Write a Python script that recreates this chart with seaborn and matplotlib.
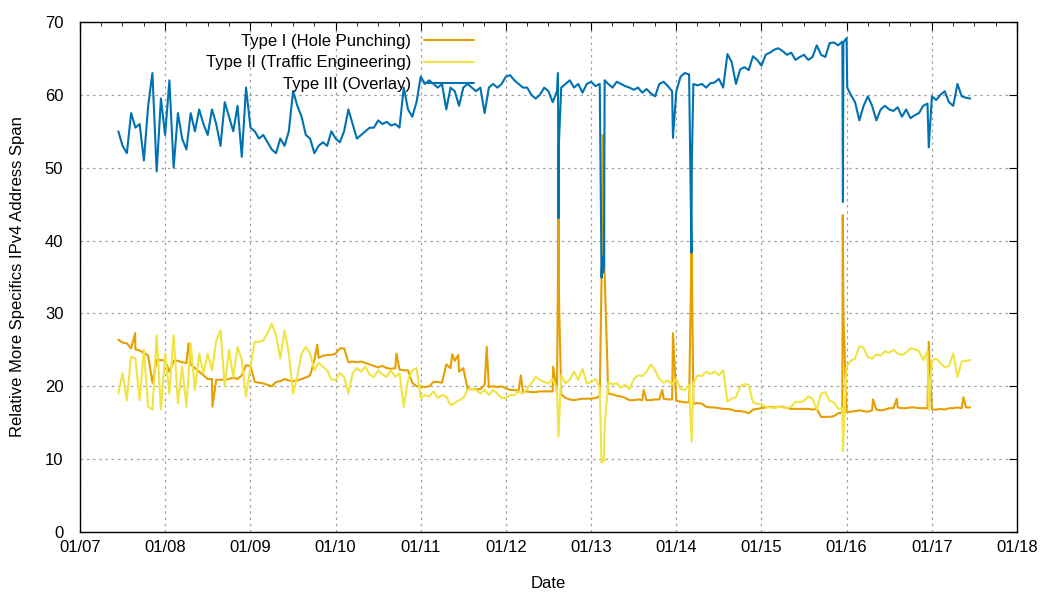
import numpy as np
import pandas as pd
import matplotlib
matplotlib.use('Agg')
import matplotlib.pyplot as plt
import matplotlib.dates as mdates
import seaborn as sns

sns.set_style('white')
plt.rcParams['font.family'] = ['Liberation Sans', 'DejaVu Sans']
plt.rcParams['text.color'] = 'black'
plt.rcParams['axes.labelcolor'] = 'black'

# sample times (fractional years), one reading every 0.05 yr, mid-2007 .. mid-2017
t_grid = np.round(2007.45 + 0.05 * np.arange(201), 3)

# Type I (Hole Punching) readings on the grid
type1_vals = [
    26.4, 26, 25.9, 25.2, 25.1, 24.9, 24.6, 24.2, 20.5, 23.7, 23.6, 23.5, 22, 23.5, 23.5, 23.3, 23.2, 23, 22.5, 22,
    21.5, 21, 21, 20.9, 20.9, 20.9, 21, 21.2, 21, 21.5, 22.9, 22.8, 20.6, 20.5, 20.4, 20.2, 20, 20.6, 20.7, 21,
    20.8, 20.7, 20.8, 21, 21.2, 21.5, 23.6, 23.9, 24.2, 24.3, 24.3, 24.5, 25.2, 25.2, 23.3, 23.4, 23.3, 23.4, 23.2, 23,
    22.8, 22.6, 22.8, 22.5, 22.4, 22.5, 22.3, 22.2, 22.2, 20.5, 20, 20, 19.9, 20, 20.6, 20.6, 20.5, 23, 22.5, 23.5,
    22, 22.5, 19.7, 19.6, 19.6, 19.6, 20.2, 19.9, 20, 19.9, 20, 19.7, 19.5, 19.5, 19.4, 19.3, 19.3, 19.2, 19.2, 19.3,
    19.3, 19.3, 19.3, 19.2, 18.9, 18.4, 18.2, 18.1, 18.2, 18.3, 18.3, 18.3, 18.4, 18.6, 49, 19, 18.9, 18.7, 18.6, 18.4,
    18.1, 18.1, 18.2, 18.1, 18.1, 18.1, 18.2, 18.2, 18.3, 18.2, 18.2, 18.0, 17.9, 17.8, 17.8, 17.6, 17.7, 17.6, 17.2, 17.1,
    17.1, 17.0, 16.9, 16.9, 16.8, 16.6, 16.6, 16.5, 16.3, 16.8, 16.9, 17.0, 17.1, 17.2, 17.1, 17.2, 17.2, 17.0, 16.9, 16.9,
    16.9, 16.9, 16.9, 16.8, 16.9, 15.8, 15.8, 15.8, 15.9, 16.3, 16.4, 16.5, 16.5, 16.6, 16.7, 16.6, 16.5, 16.7, 16.8, 16.7,
    16.8, 17.0, 17.0, 17.1, 17.0, 17.0, 17.1, 17.1, 17.0, 17.0, 17.0, 16.8, 16.8, 16.9, 16.8, 17.0, 17.0, 17.1, 17.0, 17.1, 17.1,
]
# short spikes / outage days between grid readings
type1_extra_t = [2007.647, 2008.275, 2008.555, 2009.784, 2010.714, 2011.37, 2011.44, 2011.775, 2012.176, 2012.555,
                 2012.618, 2012.625, 2013.122, 2013.135, 2013.145, 2013.155, 2013.616, 2013.835, 2013.96,
                 2014.178, 2014.185, 2015.955, 2015.962, 2016.31, 2016.59, 2016.965, 2017.37]
type1_extra_v = [27.3, 25.9, 17.2, 25.7, 24.5, 24.4, 24.3, 25.4, 21.5, 22.7,
                 43.1, 31.5, 35, 54.5, 51.5, 36.5, 19.5, 19.5, 27.3,
                 38.3, 33.7, 43.5, 30, 18.2, 18.3, 26.1, 18.5]

# Type II (Traffic Engineering)
type2_vals = [
    19.0, 21.8, 18.1, 24.1, 23.8, 18.1, 25.0, 17.2, 16.8, 27.0, 16.8, 24.5, 19.0, 27.0, 17.7, 22.7, 17.2, 25.9, 19.5, 24.5,
    21.8, 24.5, 22.2, 26.3, 27.7, 20.0, 25.0, 21.3, 25.4, 23.6, 18.6, 22.7, 26.1, 26.1, 26.3, 27.3, 28.6, 27.0, 23.8, 27.7,
    24.5, 19.0, 21.3, 24.5, 25.4, 24.5, 22.2, 23.2, 22.7, 22.2, 20.9, 20.9, 21.8, 21.3, 19.0, 21.8, 22.5, 22.0, 22.7, 21.6,
    21.3, 22.2, 21.6, 21.3, 22.2, 21.3, 21.8, 17.2, 20.9, 22.2, 22.5, 18.4, 18.8, 18.6, 19.3, 18.4, 18.8, 18.6, 17.4, 17.7,
    18.1, 18.4, 19.5, 19.7, 19.5, 19.0, 19.5, 18.8, 19.5, 19.0, 18.4, 18.4, 18.8, 18.8, 19.3, 19.0, 19.7, 20.4, 21.3, 20.9,
    20.6, 20.4, 21.0, 19.7, 21.5, 20.4, 20.9, 22.0, 20.9, 22.4, 20.4, 20.6, 21.0, 19.8, 9.8, 20.5, 20.3, 20.4, 19.8, 20.2,
    19.6, 21.0, 21.5, 21.4, 22.0, 23.0, 22.2, 21.0, 20.5, 20.8, 20.3, 21.0, 19.6, 19.5, 20.2, 20.5, 21.5, 21.4, 22.0, 21.7,
    22.0, 21.5, 22.2, 17.9, 18.3, 18.5, 20.0, 20.3, 20.2, 17.8, 17.6, 17.5, 17.2, 17.1, 17.0, 17.2, 17.1, 17.0, 17.2, 17.9,
    17.8, 18.0, 18.6, 18.3, 16.8, 19.0, 19.2, 18.0, 17.8, 16.9, 17.0, 22.7, 23.5, 23.8, 25.5, 25.3, 24.0, 23.8, 24.4, 24.2,
    24.8, 24.6, 25.0, 24.5, 24.3, 24.6, 25.2, 25.1, 24.8, 23.6, 24.8, 23.5, 23.8, 23.2, 22.6, 22.8, 24.5, 21.3, 23.4, 23.5, 23.6,
]
type2_extra_t = [2012.618, 2013.122, 2013.14, 2013.158, 2014.18, 2015.957, 2016.965]
type2_extra_v = [13.1, 9.5, 10, 14.7, 12.4, 11.1, 16.8]

# Type III (Overlay)
type3_vals = [
    55, 53, 52, 57.5, 55.5, 56, 51, 58.5, 63, 49.5, 59.5, 54.5, 62, 50, 57.5, 54, 52.5, 57.5, 55, 58,
    56, 54.5, 58, 56, 53, 59, 57, 55, 58.5, 51.5, 61, 55.5, 55, 54, 54.5, 53.5, 52.5, 52, 54, 53,
    55, 60.5, 58.5, 57, 54.5, 54, 52, 53, 53.5, 53, 55, 54, 53.5, 55, 58, 56, 54, 54.5, 55, 55.5,
    55.5, 56.5, 56, 56.3, 55.8, 56, 55.5, 61, 58, 57, 59, 62.5, 61.5, 62, 61.5, 61, 61.5, 58, 61, 60.5,
    58.5, 61, 61.5, 61, 60.5, 61, 57.5, 61, 61.5, 61, 61.5, 62.5, 62.7, 62, 61.5, 61, 61, 60, 59.5, 60,
    61, 60.5, 59, 60.5, 61, 61.5, 62, 61, 61.5, 60.3, 61.5, 61.8, 61.2, 61.5, 36.5, 61.5, 61, 61.8, 61.5, 61.2,
    61, 60.7, 61, 60.3, 60.8, 60.2, 59.8, 61.5, 61.8, 61.2, 60.5, 60.5, 62.5, 63, 62.8, 61.5, 61.3, 61.5, 61, 61.6,
    61.7, 62.2, 61, 65.6, 64.5, 61.5, 63.5, 63.8, 63.4, 65.3, 64.8, 64, 65.5, 65.8, 66.2, 66.4, 66, 65.5, 65.8, 64.8,
    65.2, 65.5, 64.8, 65.2, 66.8, 65.5, 65.2, 67.1, 67.2, 66.8, 67.3, 67.8, 60, 59, 56.5, 58.5, 59.8, 58.5, 56.5, 58,
    58.5, 58, 57.8, 58.3, 57, 58, 56.8, 57.2, 57.5, 58.5, 58.8, 59.8, 59.3, 60, 60.5, 59, 58.5, 61.5, 59.8, 59.6, 59.5,
]
type3_extra_t = [2012.612, 2012.618, 2012.622, 2013.122, 2013.13, 2013.14, 2013.158, 2013.96,
                 2014.178, 2014.182, 2015.953, 2015.957, 2015.962, 2016.008, 2016.965]
type3_extra_v = [63, 43.1, 53, 34.9, 37.8, 35.6, 62, 54.1,
                 38.3, 50.7, 56.6, 45.3, 67.2, 61, 52.8]

labels = ['Type I (Hole Punching)', 'Type II (Traffic Engineering)', 'Type III (Overlay)']
colors = ['#E69F00', '#F0E442', '#0072B2']


def frac_year_to_date(y):
    year = int(y)
    start = pd.Timestamp(year=year, month=1, day=1)
    return start + pd.Timedelta(days=(y - year) * 365.25)


def build_frame(vals, extra_t, extra_v, name):
    t = np.concatenate([t_grid, extra_t])
    v = np.concatenate([vals, extra_v])
    order = np.argsort(t, kind='stable')
    dates = [frac_year_to_date(x) for x in t[order]]
    return pd.DataFrame({'Date': dates, 'Span': v[order], 'Type': name})


frames = [
    build_frame(type1_vals, type1_extra_t, type1_extra_v, labels[0]),
    build_frame(type2_vals, type2_extra_t, type2_extra_v, labels[1]),
    build_frame(type3_vals, type3_extra_t, type3_extra_v, labels[2]),
]

fig = plt.figure(figsize=(10.5, 6), dpi=100)
ax = fig.add_axes([0.0762, 0.1133, 0.8924, 0.85])

for df, name, col in zip(frames, labels, colors):
    sns.lineplot(data=df, x='Date', y='Span', color=col, lw=1.5,
                 estimator=None, label=name, ax=ax)

ax.set_xlim(pd.Timestamp('2007-01-01'), pd.Timestamp('2018-01-01'))
ax.set_ylim(0, 70)
ax.set_yticks(range(0, 71, 10))
ax.xaxis.set_major_locator(mdates.YearLocator())
ax.xaxis.set_minor_locator(mdates.MonthLocator(bymonth=[4, 7, 10]))
ax.xaxis.set_major_formatter(mdates.DateFormatter('%m/%y'))

ax.grid(True, which='major', color='#a0a0a0', linestyle=(0, (2, 3)), lw=0.9)
ax.tick_params(which='both', direction='in', top=True, right=True, labelsize=12, colors='black')
ax.tick_params(which='major', length=6)
ax.tick_params(which='minor', length=3)
ax.tick_params(axis='y', pad=12)
ax.tick_params(axis='x', pad=6)
for sp in ax.spines.values():
    sp.set_color('black')
    sp.set_linewidth(1)

ax.set_xlabel('Date', fontsize=12, labelpad=15)
ax.set_ylabel('Relative More Specifics IPv4 Address Span', fontsize=12, labelpad=14)

ax.legend(loc='upper right', bbox_to_anchor=(0.428, 0.99), frameon=False, markerfirst=False,
          handlelength=3.0, labelspacing=0.4, fontsize=12, borderaxespad=0.0, handletextpad=0.8)

fig.savefig('out.png', dpi=100)
